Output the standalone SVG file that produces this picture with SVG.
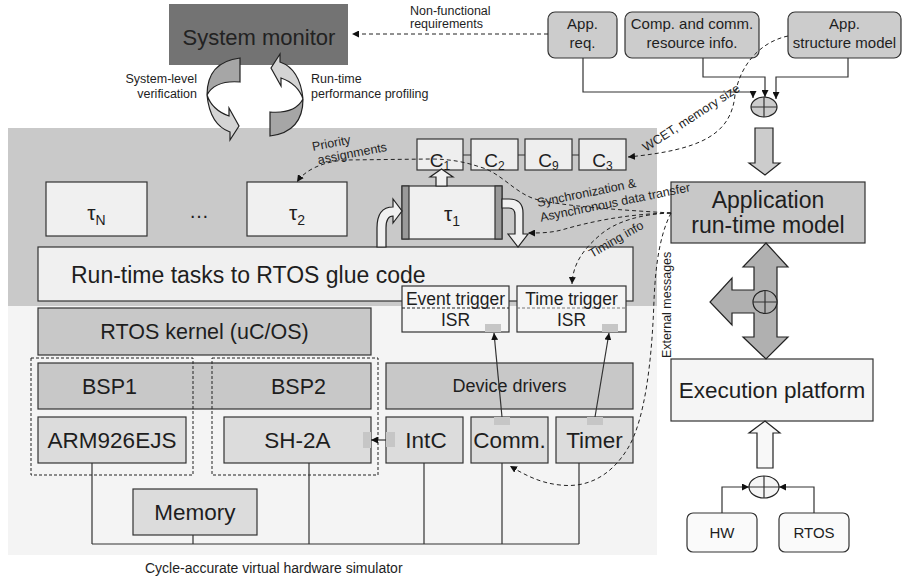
<svg xmlns="http://www.w3.org/2000/svg" width="902" height="583" viewBox="0 0 902 583">
<style>
text{font-family:"Liberation Sans",Arial,sans-serif;fill:#1e1e1e}
.b{stroke:#333;stroke-width:1.2}
.dk{fill:#c8c8c8}
.md{fill:#dcdcdc}
.lt{fill:#f0f0f0}
.rb{fill:#cccccc;stroke:#333;stroke-width:1.2}
.sq{fill:#c6c6c6}
.lbl{font-size:12.5px}
.c{text-anchor:middle}
.dash{fill:none;stroke:#222;stroke-width:1;stroke-dasharray:4,3}
.ln{fill:none;stroke:#333;stroke-width:1.2}
.ar{marker-end:url(#ah)}
.dbox{fill:none;stroke:#222;stroke-width:1;stroke-dasharray:3,2}
.blk{stroke:#222;stroke-width:1.2}
</style>
<defs>
<marker id="ah" viewBox="0 0 10 10" refX="10" refY="5" markerWidth="7" markerHeight="7" orient="auto" markerUnits="userSpaceOnUse"><path d="M0,0 L10,5 L0,10 z" fill="#111"/></marker>
</defs>

<!-- panels -->
<rect x="8" y="128" width="649" height="178" fill="#c9c9c9"/>
<rect x="8" y="306" width="649" height="249" fill="#f4f4f4"/>

<g id="system-monitor"><rect x="169" y="4" width="179" height="61" fill="#737373"/><text x="259" y="45" font-size="22" class="c" style="fill:#222">System monitor</text></g>

<g id="app-req"><rect x="548" y="12" width="69" height="46" rx="7" class="rb"/><text x="582.5" y="29" font-size="15" class="c">App.</text><text x="582.5" y="48" font-size="15" class="c">req.</text></g>
<g id="comp-comm"><rect x="625" y="12" width="134" height="46" rx="7" class="rb"/><text x="692" y="29" font-size="15" class="c">Comp. and comm.</text><text x="692" y="48" font-size="15" class="c">resource info.</text></g>
<g id="app-structure"><rect x="788" y="12" width="113" height="46" rx="7" class="rb"/><text x="844.5" y="29" font-size="15" class="c">App.</text><text x="844.5" y="48" font-size="15" class="c">structure model</text></g>

<g id="app-runtime-model"><rect x="671" y="182" width="194" height="61" class="dk b"/><text x="768" y="208" font-size="23" class="c">Application</text><text x="768" y="233" font-size="23" class="c">run-time model</text></g>
<g id="execution-platform"><rect x="671" y="359" width="202" height="62" fill="#f5f5f5" class="b"/><text x="772" y="398" font-size="22.5" class="c">Execution platform</text></g>
<g id="hw"><rect x="687" y="513" width="70" height="39" rx="6" fill="#fafafa" class="b"/><text x="722" y="538" font-size="15" class="c">HW</text></g>
<g id="rtos"><rect x="779" y="513" width="70" height="39" rx="6" fill="#fafafa" class="b"/><text x="814" y="538" font-size="15" class="c">RTOS</text></g>

<g id="tau-n"><rect x="46" y="182" width="101" height="54" class="lt b"/><text x="96.5" y="220" font-size="21" class="c">τ<tspan font-size="14" dy="5">N</tspan></text></g>
<g id="dots"><text x="199" y="218" font-size="20" class="c">…</text></g>
<g id="tau-2"><rect x="247" y="182" width="100" height="54" class="lt b"/><text x="297" y="220" font-size="21" class="c">τ<tspan font-size="14" dy="5">2</tspan></text></g>
<g id="tau-1"><rect x="402" y="186" width="100" height="53" class="lt b"/><rect x="402" y="186" width="7" height="53" fill="#9a9a9a" class="b"/><rect x="495" y="186" width="7" height="53" fill="#9a9a9a" class="b"/><text x="452" y="221" font-size="21" class="c">τ<tspan font-size="14" dy="5">1</tspan></text></g>

<g id="c1"><rect x="417" y="139" width="46" height="31" fill="#eeeeee" class="b"/><text x="440" y="167" font-size="19" class="c">C<tspan font-size="12" dy="3">1</tspan></text></g>
<g id="c2"><rect x="471" y="139" width="47" height="31" fill="#eeeeee" class="b"/><text x="494.5" y="167" font-size="19" class="c">C<tspan font-size="12" dy="3">2</tspan></text></g>
<g id="c9"><rect x="525" y="139" width="47" height="31" fill="#eeeeee" class="b"/><text x="548.5" y="167" font-size="19" class="c">C<tspan font-size="12" dy="3">9</tspan></text></g>
<g id="c3"><rect x="579" y="139" width="47" height="31" fill="#eeeeee" class="b"/><text x="602.5" y="167" font-size="19" class="c">C<tspan font-size="12" dy="3">3</tspan></text></g>

<g id="glue-code"><rect x="38" y="247" width="595" height="54" class="lt b"/><text x="71" y="283" font-size="23">Run-time tasks to RTOS glue code</text></g>

<g id="event-trigger"><rect x="402" y="286" width="107" height="46" fill="#f5f5f5" class="b"/><line x1="402" y1="308" x2="509" y2="308" stroke="#222" stroke-dasharray="3,2"/><text x="455.5" y="305" font-size="17.5" class="c">Event trigger</text><text x="455.5" y="326" font-size="17.5" class="c">ISR</text><rect x="485" y="324" width="16" height="8" class="sq"/></g>
<g id="time-trigger"><rect x="517" y="286" width="109" height="46" fill="#f5f5f5" class="b"/><line x1="517" y1="308" x2="626" y2="308" stroke="#777" stroke-dasharray="3,2"/><text x="571.5" y="305" font-size="17.5" class="c">Time trigger</text><text x="571.5" y="326" font-size="17.5" class="c">ISR</text><rect x="602" y="324" width="16" height="8" class="sq"/></g>

<g id="rtos-kernel"><rect x="38" y="308" width="333" height="47" class="dk b"/><text x="204.5" y="339" font-size="21.5" class="c">RTOS kernel (uC/OS)</text></g>
<g id="bsp"><rect x="38" y="363" width="333" height="46" class="dk b"/><text x="109.5" y="394" font-size="21.5" class="c">BSP1</text><text x="298.5" y="394" font-size="21.5" class="c">BSP2</text></g>
<g id="arm"><rect x="38" y="417" width="148" height="46" class="md b"/><text x="112" y="448" font-size="22.5" class="c">ARM926EJS</text></g>
<g id="sh2a"><rect x="224" y="417" width="147" height="46" class="md b"/><text x="297.5" y="448" font-size="22.5" class="c">SH-2A</text><rect x="363" y="432" width="8" height="16" class="sq"/></g>
<g id="cpu-groups"><rect x="31" y="358" width="162" height="117" class="dbox"/><rect x="212" y="358" width="166" height="117" class="dbox"/></g>
<g id="memory"><rect x="133" y="489" width="124" height="46" class="md b"/><text x="195" y="520" font-size="22.5" class="c">Memory</text></g>

<g id="device-drivers"><rect x="386" y="363" width="247" height="46" class="dk b"/><text x="509.5" y="392" font-size="18" class="c">Device drivers</text></g>
<g id="intc"><rect x="386" y="417" width="77" height="46" class="md b"/><text x="426" y="448" font-size="22.5" class="c">IntC</text><rect x="386" y="432" width="9" height="15" class="sq"/></g>
<g id="comm"><rect x="471" y="417" width="77" height="46" class="md b"/><text x="509.5" y="448" font-size="22.5" class="c">Comm.</text><rect x="494" y="417" width="16" height="8" class="sq"/></g>
<g id="timer"><rect x="556" y="417" width="77" height="46" class="md b"/><text x="594.5" y="448" font-size="22.5" class="c">Timer</text><rect x="587" y="417" width="16" height="8" class="sq"/></g>

<g id="simulator-caption"><text x="145" y="573" font-size="14">Cycle-accurate virtual hardware simulator</text></g>

<g id="connectors">
<!-- bus -->
<path class="ln" d="M92,463 V544 M193,535 V544 M309,463 V544 M424,463 V544 M502,463 V544 M579,463 V544 M92,544 H579"/>
<!-- C chain -->
<path class="ln" d="M463,155 H471 M518,155 H525 M572,155 H579"/>
<!-- solid arrows -->
<path class="ln ar" d="M502,417 L494,333"/>
<path class="ln ar" d="M595,417 L609,333"/>
<path class="ln ar" d="M386,440 H371"/>
<path class="ln ar" d="M583,58 V92 H753 V98"/>
<path class="ln ar" d="M703,58 V77 H765 V97"/>
<path class="ln ar" d="M848,58 V77 H776 V99"/>
<path class="ln ar" d="M722,513 V487 H749"/>
<path class="ln ar" d="M814,513 V487 H779"/>

<!-- merge ellipses -->
<ellipse cx="764" cy="107" rx="13" ry="10" fill="#cccccc" class="blk"/><path class="ln" d="M751,107 H777 M764,97 V117"/>
<ellipse cx="764" cy="487" rx="15" ry="11" fill="#f5f5f5" class="blk"/><path class="ln" d="M749,487 H779 M764,476 V498"/>

<!-- block arrows -->
<path d="M755,128 L773,128 L773,163 L780,163 L765,175 L749,163 L755,163 Z" fill="#cccccc" class="blk"/>
<path d="M757,468 L773,468 L773,433 L780,433 L765,421 L749,433 L757,433 Z" fill="#f8f8f8" class="blk"/>
<path d="M766,243 L788,267 L777,267 L777,337 L788,337 L766,359 L743,337 L754,337 L754,313 L732,313 L732,325 L710,302 L732,278 L732,290 L754,290 L754,267 L743,267 Z" fill="#b0b0b0" class="blk"/>
<ellipse cx="765" cy="302" rx="12" ry="11.5" fill="#b0b0b0" class="blk"/><path class="ln" d="M753,302 H777 M765,290.5 V313.5"/>

<!-- task flow arrows -->
<path d="M436,186 L436,177 L430,177 L441.5,169 L453,177 L447,177 L447,186 Z" fill="#f0f0f0" class="blk"/>
<path d="M377,247 L377,228 Q377,207 393,207 L393,199 L402,211 L393,223 L393,216 Q386,216 386,228 L386,247 Z" fill="#f0f0f0" class="blk"/>
<path d="M502,199 L509,199 Q523,199 523,213 L523,234 L528,234 L518,247 L508,234 L515,234 L515,215 Q515,208 509,208 L502,208 Z" fill="#f0f0f0" class="blk"/>

<!-- circular arrows -->
<path d="M207,95 Q207,62 240,58 L240,82 Q215,80 207,95 Z" fill="#a6a6a6" class="blk"/>
<path d="M207,95 Q210,125 230,132 L230,140 L239,126 L229,108 L229,116 Q212,110 207,95 Z" fill="#d4d4d4" class="blk"/>
<path d="M303,99 Q303,132 270,136 L270,112 Q295,114 303,99 Z" fill="#a6a6a6" class="blk"/>
<path d="M303,99 Q300,69 280,62 L280,54 L271,68 L281,86 L281,78 Q298,84 303,99 Z" fill="#d4d4d4" class="blk"/>

<!-- dashed info flows -->
<path class="dash ar" d="M548,34 H352"/>
<path class="dash ar" d="M788,36 C760,42 740,65 735,95 C731,135 700,150 628,157"/>
<path class="dash ar" d="M671,213 C620,210 560,206 535,199 C515,193 500,172 480,167 C465,162 450,159 430,159 L345,160 C322,162 305,170 297,182"/>
<path class="dash ar" d="M671,213 C625,214 590,222 565,229 C552,233 540,233 528,233"/>
<path class="dash ar" d="M671,213 C640,214 615,222 600,235 C585,248 573,262 572,284"/>
<path class="dash ar" d="M671,213 C657,240 655,280 654,300 C652,360 645,420 628,448 C610,478 585,488 560,485 C540,483 525,475 510,466"/>

<!-- labels -->
<text class="lbl" x="410" y="15">Non-functional</text>
<text class="lbl" x="410" y="28">requirements</text>
<text class="lbl" x="197" y="83" text-anchor="end">System-level</text>
<text class="lbl" x="197" y="98" text-anchor="end">verification</text>
<text class="lbl" x="311" y="83">Run-time</text>
<text class="lbl" x="311" y="98">performance profiling</text>
<text class="lbl" transform="translate(646,152) rotate(-33)">WCET, memory size</text>
<g transform="translate(313,151) rotate(-11)"><text class="lbl" x="0" y="0">Priority</text><text class="lbl" x="3" y="14">assignments</text></g>
<g transform="translate(538,207) rotate(-11.5)"><text class="lbl" x="0" y="0">Synchronization &amp;</text><text class="lbl" x="0" y="15">Asynchronous data transfer</text></g>
<text class="lbl" transform="translate(592,258) rotate(-30)">Timing info</text>
<text class="lbl" transform="translate(671,358) rotate(-90)">External messages</text>
</g>
</svg>
